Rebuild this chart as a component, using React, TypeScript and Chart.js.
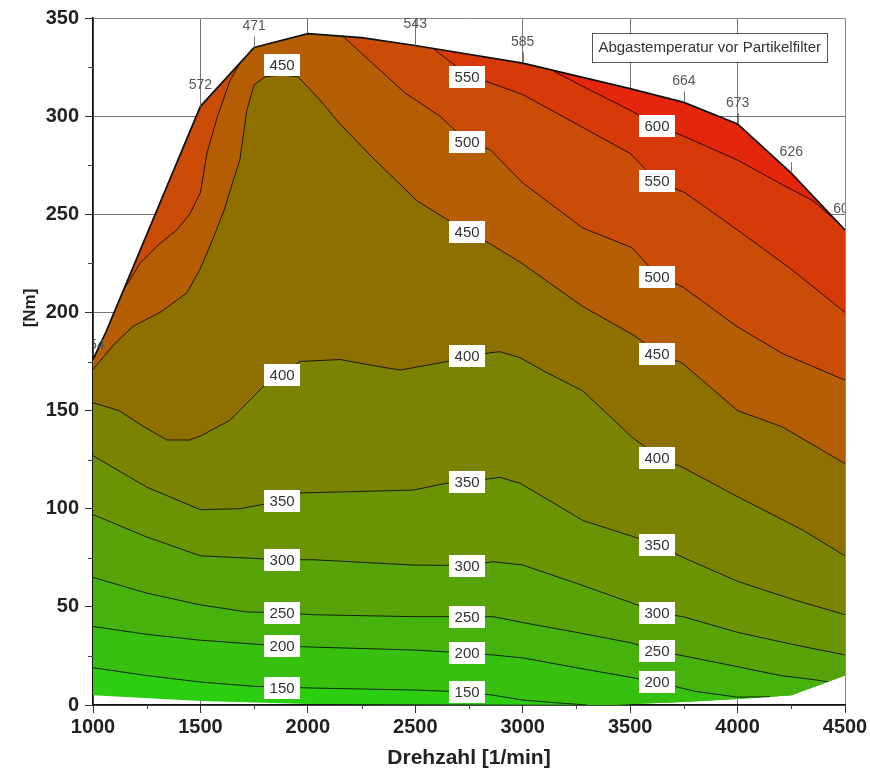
import React, { useEffect, useRef } from 'react';
import { Chart, registerables } from 'chart.js';

Chart.register(...registerables);

type Pt = [number, number];

const X_MIN = 1000;
const X_MAX = 4500;
const Y_MIN = 0;
const Y_MAX = 350;
const X_STEP = 500;
const Y_STEP = 50;
const X_MINOR = [1250, 1750, 2250, 2750, 3250, 3750, 4250];
const Y_MINOR = [25, 75, 125, 175, 225, 275, 325];

const X_TITLE = 'Drehzahl [1/min]';
const Y_TITLE = '[Nm]';
const LEGEND_TEXT = 'Abgastemperatur vor Partikelfilter';

const LEVELS = [150, 200, 250, 300, 350, 400, 450, 500, 550, 600];

// full-load curve (upper edge of the map)
const UPPER_BOUNDARY: Pt[] = [
  [1000, 176], [1060, 190], [1500, 305], [1750, 335], [2000, 342], [2250, 340],
  [2500, 336], [3000, 327], [3500, 314], [3750, 307], [4000, 296], [4250, 271], [4500, 242],
];
// lower edge of the map
const LOWER_BOUNDARY: Pt[] = [
  [1000, 5], [1500, 2], [2000, 0.5], [3400, 0], [3750, 1.5], [4000, 3], [4250, 5], [4500, 15],
];

// temperatures written along the full-load curve
const BOUNDARY_LABEL_X = [1000, 1500, 1750, 2500, 3000, 3750, 4000, 4250, 4500];
const BOUNDARY_LABEL_TEXT = ['454', '572', '471', '543', '585', '664', '673', '626', '603'];

// isolines
const ISO_150: Pt[] = [
  [1000, 19], [1250, 15], [1500, 11.7], [1750, 9.5], [2000, 8.7], [2500, 7.6], [2741, 6.6],
  [2862, 5], [3000, 2.5], [3170, 1], [3300, 0],
];
const ISO_200: Pt[] = [
  [1000, 40], [1250, 36], [1500, 33], [1880, 30], [2025, 29.5], [2490, 28], [2741, 26.5],
  [2862, 25.5], [3000, 24], [3250, 19], [3508, 14], [3625, 11.7], [3800, 7], [4000, 4], [4150, 4.2],
];
const ISO_250: Pt[] = [
  [1000, 65], [1250, 57], [1500, 51], [1716, 47.4], [1880, 47], [2025, 46], [2490, 45],
  [2741, 45], [2862, 45], [3000, 42], [3250, 37], [3508, 31.6], [3625, 27.5], [3750, 25],
  [4000, 19.5], [4200, 15], [4370, 12.7], [4420, 11.8],
];
const ISO_300: Pt[] = [
  [1000, 97], [1250, 85.6], [1500, 76], [1880, 74], [2025, 74], [2490, 71.3], [2741, 71],
  [2862, 73], [3000, 71.3], [3250, 62], [3508, 52], [3625, 47], [3745, 45], [4000, 37],
  [4250, 31], [4500, 25.5],
];
const ISO_350: Pt[] = [
  [1000, 127], [1250, 111], [1500, 99.5], [1684, 100], [1880, 104], [1963, 108], [2490, 109.5],
  [2648, 113], [2741, 113.6], [2893, 116], [2987, 113], [3127, 104], [3280, 94], [3508, 86],
  [3625, 81.5], [3750, 75], [4000, 63], [4250, 54], [4500, 46],
];
const ISO_400: Pt[] = [
  [1000, 154], [1120, 150], [1233, 142], [1344, 135], [1450, 135], [1500, 137], [1637, 145],
  [1791, 162], [1880, 168], [1963, 175], [2150, 176], [2300, 173], [2430, 170.6], [2648, 175],
  [2741, 178], [2893, 180], [2987, 177], [3100, 170], [3280, 160], [3508, 136.5], [3625, 127],
  [3745, 121], [4002, 106], [4305, 89], [4500, 76],
];
const ISO_450: Pt[] = [
  [1000, 171], [1100, 184], [1187, 193], [1312, 200], [1437, 210], [1498, 222], [1560, 238],
  [1610, 252], [1652, 267], [1684, 278], [1716, 303], [1750, 316], [1800, 320], [1880, 321],
  [1955, 320], [2050, 309], [2150, 296], [2300, 279], [2507, 257], [2741, 241], [2848, 235],
  [2997, 225], [3280, 203], [3508, 189], [3625, 180], [3745, 174], [4000, 150], [4210, 141.6],
  [4500, 123],
];
const ISO_500_LEFT: Pt[] = [
  [1140, 211], [1219, 225], [1300, 234], [1390, 242], [1450, 250], [1500, 261], [1530, 281],
  [1580, 300], [1637, 318], [1690, 328],
];
const ISO_500_RIGHT: Pt[] = [
  [2160, 341], [2300, 327], [2450, 312], [2615, 300], [2741, 287], [2848, 283], [3000, 266],
  [3280, 243], [3508, 233], [3625, 219], [3745, 213], [4000, 192.6], [4210, 179], [4500, 165.5],
];
const ISO_550: Pt[] = [
  [2583, 334.5], [2741, 321], [2848, 317], [3000, 311], [3250, 296], [3500, 281], [3625, 267],
  [3755, 261], [4000, 242], [4250, 222], [4500, 200],
];
const ISO_600: Pt[] = [
  [3142, 323], [3300, 314], [3500, 303], [3625, 295], [3745, 290], [4000, 277.6], [4210, 265],
  [4350, 257], [4470, 245.5],
];

const CONTOURS: { level: number; pts: Pt[] }[] = [
  { level: 150, pts: ISO_150 },
  { level: 200, pts: ISO_200 },
  { level: 250, pts: ISO_250 },
  { level: 300, pts: ISO_300 },
  { level: 350, pts: ISO_350 },
  { level: 400, pts: ISO_400 },
  { level: 450, pts: ISO_450 },
  { level: 500, pts: ISO_500_LEFT },
  { level: 500, pts: ISO_500_RIGHT },
  { level: 550, pts: ISO_550 },
  { level: 600, pts: ISO_600 },
];

// isoline labels: rpm columns, [Nm, text]
const LABEL_X = [1880, 2741, 3625];
const LABELS_COL1: [number, string][] = [
  [326, '450'], [168, '400'], [104, '350'], [74, '300'], [47, '250'], [30, '200'], [8.7, '150'],
];
const LABELS_COL2: [number, string][] = [
  [320, '550'], [287, '500'], [241, '450'], [178, '400'], [113.6, '350'], [71, '300'],
  [45, '250'], [26.5, '200'], [6.6, '150'],
];
const LABELS_COL3: [number, string][] = [
  [295, '600'], [267, '550'], [218, '500'], [179, '450'], [126, '400'], [81.5, '350'],
  [47, '300'], [27.5, '250'], [11.7, '200'],
];

// band colours: below 150, 150-200, ..., above 600
const BAND_COLORS = [
  'rgb(45,206,18)', 'rgb(55,192,16)', 'rgb(70,178,14)', 'rgb(88,163,10)', 'rgb(106,148,6)',
  'rgb(122,131,2)', 'rgb(141,112,0)', 'rgb(182,94,6)', 'rgb(202,76,6)', 'rgb(215,58,8)',
  'rgb(228,38,12)',
];

const FONT = '"Liberation Sans", Arial, Helvetica, sans-serif';

function regionAbove(line: Pt[]): Pt[] {
  const sx = line[0][0];
  const ex = line[line.length - 1][0];
  const ey = line[line.length - 1][1];
  const pts: Pt[] = line.slice();
  const onRight = ex >= X_MAX;
  const onLower = !onRight && ey < 20;
  if (onLower) {
    LOWER_BOUNDARY.filter((p) => p[0] > ex).forEach((p) => pts.push(p));
  }
  UPPER_BOUNDARY.slice().reverse().forEach((p) => {
    let inRange: boolean;
    if (onLower || onRight) inRange = sx <= X_MIN ? p[0] >= sx : p[0] > sx;
    else inRange = p[0] > sx && p[0] < ex;
    if (inRange) pts.push(p);
  });
  return pts;
}

function upperAt(x: number): number {
  for (let i = 0; i < UPPER_BOUNDARY.length - 1; i++) {
    const [x0, y0] = UPPER_BOUNDARY[i];
    const [x1, y1] = UPPER_BOUNDARY[i + 1];
    if (x >= x0 && x <= x1) return y0 + ((x - x0) / (x1 - x0)) * (y1 - y0);
  }
  return UPPER_BOUNDARY[UPPER_BOUNDARY.length - 1][1];
}

const toXY = (pts: Pt[]) => pts.map(([x, y]) => ({ x, y }));

const overlayPlugin = {
  id: 'overlay',
  afterDraw(chart: any) {
    const { ctx, chartArea: a, scales } = chart;
    const xs = scales.x;
    const ys = scales.y;
    ctx.save();

    // minor ticks
    ctx.strokeStyle = '#444';
    ctx.lineWidth = 1;
    ctx.beginPath();
    X_MINOR.forEach((v) => {
      const px = Math.round(xs.getPixelForValue(v)) + 0.5;
      ctx.moveTo(px, a.bottom);
      ctx.lineTo(px, a.bottom + 4);
    });
    Y_MINOR.forEach((v) => {
      const py = Math.round(ys.getPixelForValue(v)) + 0.5;
      ctx.moveTo(a.left - 5, py);
      ctx.lineTo(a.left, py);
    });
    ctx.stroke();

    // boundary temperatures
    ctx.save();
    ctx.beginPath();
    ctx.rect(a.left + 1, 0, a.right - a.left - 1, a.bottom);
    ctx.clip();
    ctx.font = `14px ${FONT}`;
    ctx.textAlign = 'center';
    ctx.textBaseline = 'middle';
    BOUNDARY_LABEL_X.forEach((x, i) => {
      const px = xs.getPixelForValue(x);
      const py = ys.getPixelForValue(upperAt(x));
      if (x > X_MIN) {
        ctx.strokeStyle = '#777';
        ctx.beginPath();
        ctx.moveTo(Math.round(px) + 0.5, py);
        ctx.lineTo(Math.round(px) + 0.5, py - 11);
        ctx.stroke();
        ctx.fillStyle = '#555';
        ctx.fillText(BOUNDARY_LABEL_TEXT[i], px, py - 21);
      } else {
        ctx.fillStyle = '#555';
        ctx.fillText(BOUNDARY_LABEL_TEXT[i], px, py - 14);
      }
    });
    ctx.restore();

    // isoline labels
    ctx.font = `15px ${FONT}`;
    ctx.textAlign = 'center';
    ctx.textBaseline = 'middle';
    [LABELS_COL1, LABELS_COL2, LABELS_COL3].forEach((col, ci) => {
      const px = xs.getPixelForValue(LABEL_X[ci]);
      col.forEach(([v, t]) => {
        const py = ys.getPixelForValue(v);
        ctx.fillStyle = '#ffffff';
        ctx.fillRect(Math.round(px - 18), Math.round(py - 11), 36, 22);
        ctx.fillStyle = '#333';
        ctx.fillText(t, px, py + 1);
      });
    });

    // legend box
    ctx.font = `15px ${FONT}`;
    const tw = ctx.measureText(LEGEND_TEXT).width;
    const bw = tw + 12;
    const bx = a.right - 18 - bw;
    const by = a.top + 15;
    ctx.fillStyle = '#fff';
    ctx.fillRect(bx, by, bw, 29);
    ctx.strokeStyle = '#555';
    ctx.lineWidth = 1;
    ctx.strokeRect(Math.round(bx) + 0.5, Math.round(by) + 0.5, Math.round(bw), 29);
    ctx.fillStyle = '#333';
    ctx.textAlign = 'center';
    ctx.textBaseline = 'middle';
    ctx.fillText(LEGEND_TEXT, bx + bw / 2, by + 15);

    // axis titles
    ctx.fillStyle = '#222';
    ctx.font = `bold 21px ${FONT}`;
    ctx.fillText(X_TITLE, (a.left + a.right) / 2, a.bottom + 53);
    ctx.save();
    ctx.translate(a.left - 63, a.top + 290);
    ctx.rotate(-Math.PI / 2);
    ctx.font = `bold 17px ${FONT}`;
    ctx.fillText(Y_TITLE, 0, 0);
    ctx.restore();

    ctx.restore();
  },
};

export default function App() {
  const ref = useRef<HTMLCanvasElement | null>(null);

  useEffect(() => {
    if (!ref.current) return;
    const datasets: any[] = [];

    const domain: Pt[] = [...LOWER_BOUNDARY, ...UPPER_BOUNDARY.slice().reverse()];
    datasets.push({
      data: toXY(domain),
      fill: 'shape',
      backgroundColor: BAND_COLORS[0],
      borderWidth: 0,
      pointRadius: 0,
      order: 200,
    });
    CONTOURS.forEach((c, k) => {
      datasets.push({
        data: toXY(regionAbove(c.pts)),
        fill: 'shape',
        backgroundColor: BAND_COLORS[LEVELS.indexOf(c.level) + 1],
        borderWidth: 0,
        pointRadius: 0,
        order: 190 - k,
      });
    });
    CONTOURS.forEach((c) => {
      datasets.push({
        data: toXY(c.pts),
        fill: false,
        borderColor: 'rgba(0,0,0,0.78)',
        borderWidth: 1,
        pointRadius: 0,
        order: 2,
      });
    });
    datasets.push({
      data: toXY(UPPER_BOUNDARY),
      fill: false,
      borderColor: '#111',
      borderWidth: 1.7,
      pointRadius: 0,
      order: 1,
    });

    const gridColor = (c: any) => {
      const v = c.tick ? c.tick.value : 0;
      if (v === X_MAX || v === Y_MAX) return '#8a8a8a';
      return 'rgba(0,0,0,0.55)';
    };

    const chart = new Chart(ref.current, {
      type: 'line',
      data: { datasets },
      options: {
        responsive: false,
        animation: false,
        events: [],
        layout: { padding: { top: 18, right: 25, left: 0, bottom: 0 } },
        plugins: {
          legend: { display: false },
          tooltip: { enabled: false },
          filler: { propagate: false },
        },
        elements: { point: { radius: 0 }, line: { tension: 0 } },
        scales: {
          x: {
            type: 'linear',
            min: X_MIN,
            max: X_MAX,
            z: 1,
            afterFit: (s: any) => { s.height = 66; },
            ticks: {
              stepSize: X_STEP,
              autoSkip: false,
              maxRotation: 0,
              padding: 2,
              color: '#222',
              font: { family: FONT, size: 20, weight: 'bold' },
              callback: (v: any) => String(v),
            },
            grid: { color: gridColor, lineWidth: 1, tickLength: 8, tickColor: '#333' },
            border: { color: '#111', width: 1.5 },
          },
          y: {
            type: 'linear',
            min: Y_MIN,
            max: Y_MAX,
            z: 1,
            afterFit: (s: any) => { s.width = 93; },
            ticks: {
              stepSize: Y_STEP,
              padding: 6,
              color: '#222',
              font: { family: FONT, size: 20, weight: 'bold' },
              callback: (v: any) => String(v),
            },
            grid: { color: gridColor, lineWidth: 1, tickLength: 8, tickColor: '#333' },
            border: { color: '#111', width: 1.5 },
          },
        },
      } as any,
      plugins: [overlayPlugin],
    });
    return () => chart.destroy();
  }, []);

  return (
    <div style={{ position: 'absolute', left: 0, top: 0, width: 870, height: 771, background: '#fff' }}>
      <canvas ref={ref} width={870} height={771} style={{ display: 'block' }} />
    </div>
  );
}
